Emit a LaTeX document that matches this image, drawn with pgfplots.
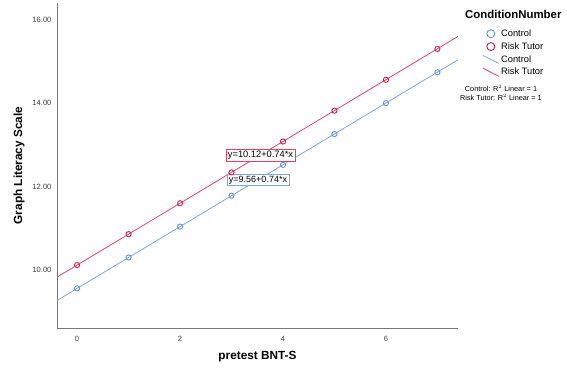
\documentclass[border=0pt]{standalone}
\usepackage{pgfplots}
\pgfplotsset{compat=1.18}
\usepackage{fontspec}
\setmainfont{Liberation Sans}
\definecolor{cblue}{RGB}{120,165,230}
\definecolor{cbluem}{RGB}{95,145,225}
\definecolor{cred}{RGB}{232,64,96}
\definecolor{credm}{RGB}{205,25,65}
\definecolor{axgray}{RGB}{120,120,120}
\pgfplotsset{
  markleg/.style={legend image code/.code={\draw[mark repeat=2,mark phase=2,##1,mark size=4pt] plot coordinates {(0cm,0cm) (0.28cm,0cm) (0.56cm,0cm)};}},
  lineleg/.style={legend image code/.code={\draw[##1] (0cm,4pt) -- (0.56cm,-4pt);}},
}
\begin{document}
\begin{tikzpicture}
\path[use as bounding box] (-57pt,-45pt) rectangle (510pt,328pt);
\begin{axis}[
  scale only axis,
  width=401pt, height=325pt,
  xmin=-0.39, xmax=7.4, ymin=8.61, ymax=16.4,
  axis x line*=bottom, axis y line*=left,
  axis line style={axgray, line width=0.8pt, -},
  xtick={0,2,4,6},
  ytick={10,12,14,16},
  y tick label style={/pgf/number format/fixed, /pgf/number format/fixed zerofill, /pgf/number format/precision=2},
  /pgf/number format/assume math mode=true,
  major tick length=0pt,
  tick label style={font=\fontsize{7.6}{8.5}\selectfont, text=black!75},
  xticklabel style={yshift=-5pt},
  yticklabel style={xshift=-2pt},
  xlabel={\textbf{pretest BNT-S}},
  ylabel={\textbf{Graph Literacy Scale}},
  label style={font=\fontsize{11.8}{13}\selectfont},
  xlabel style={yshift=-2.5pt},
  ylabel style={yshift=1pt},
  legend style={draw=none, fill=none, at={(1.058,0.928)}, anchor=north west,
    font=\fontsize{9.3}{10}\selectfont, row sep=0.6pt, inner sep=1pt},
  legend cell align=left,
  clip=true,
]
\addplot[only marks, mark=o, mark size=2.6pt, cbluem, mark options={line width=0.9pt}, markleg] coordinates {
(0,9.56) (1,10.30) (2,11.04) (3,11.78) (4,12.52) (5,13.26) (6,14.00) (7,14.74)};
\addlegendentry{Control}
\addplot[only marks, mark=o, mark size=2.6pt, credm, mark options={line width=0.9pt}, markleg] coordinates {
(0,10.12) (1,10.86) (2,11.60) (3,12.34) (4,13.08) (5,13.82) (6,14.56) (7,15.30)};
\addlegendentry{Risk Tutor}
\addplot[cblue, line width=0.8pt, lineleg] coordinates {(-0.39,9.27) (7.4,15.04)};
\addlegendentry{Control}
\addplot[cred, line width=0.8pt, lineleg] coordinates {(-0.39,9.83) (7.4,15.60)};
\addlegendentry{Risk Tutor}
\node[draw=cred, fill=white, line width=0.6pt, inner sep=1.8pt, anchor=west,
  font=\fontsize{9.3}{10}\selectfont] at (axis cs:2.89,12.74) {y=10.12+0.74*x};
\node[draw=cblue, fill=white, line width=0.6pt, inner sep=1.8pt, anchor=west,
  font=\fontsize{9}{10}\selectfont] at (axis cs:2.91,12.16) {y=9.56+0.74*x};
\end{axis}
\node[anchor=west, inner sep=0pt, font=\fontsize{11.4}{12}\selectfont\bfseries] at (408pt,314pt) {ConditionNumber};
\node[anchor=center, align=center, font=\fontsize{7.3}{8.8}\selectfont] at (444pt,235pt)
  {Control: R$^2$ Linear = 1\\Risk Tutor: R$^2$ Linear = 1};
\end{tikzpicture}
\end{document}
